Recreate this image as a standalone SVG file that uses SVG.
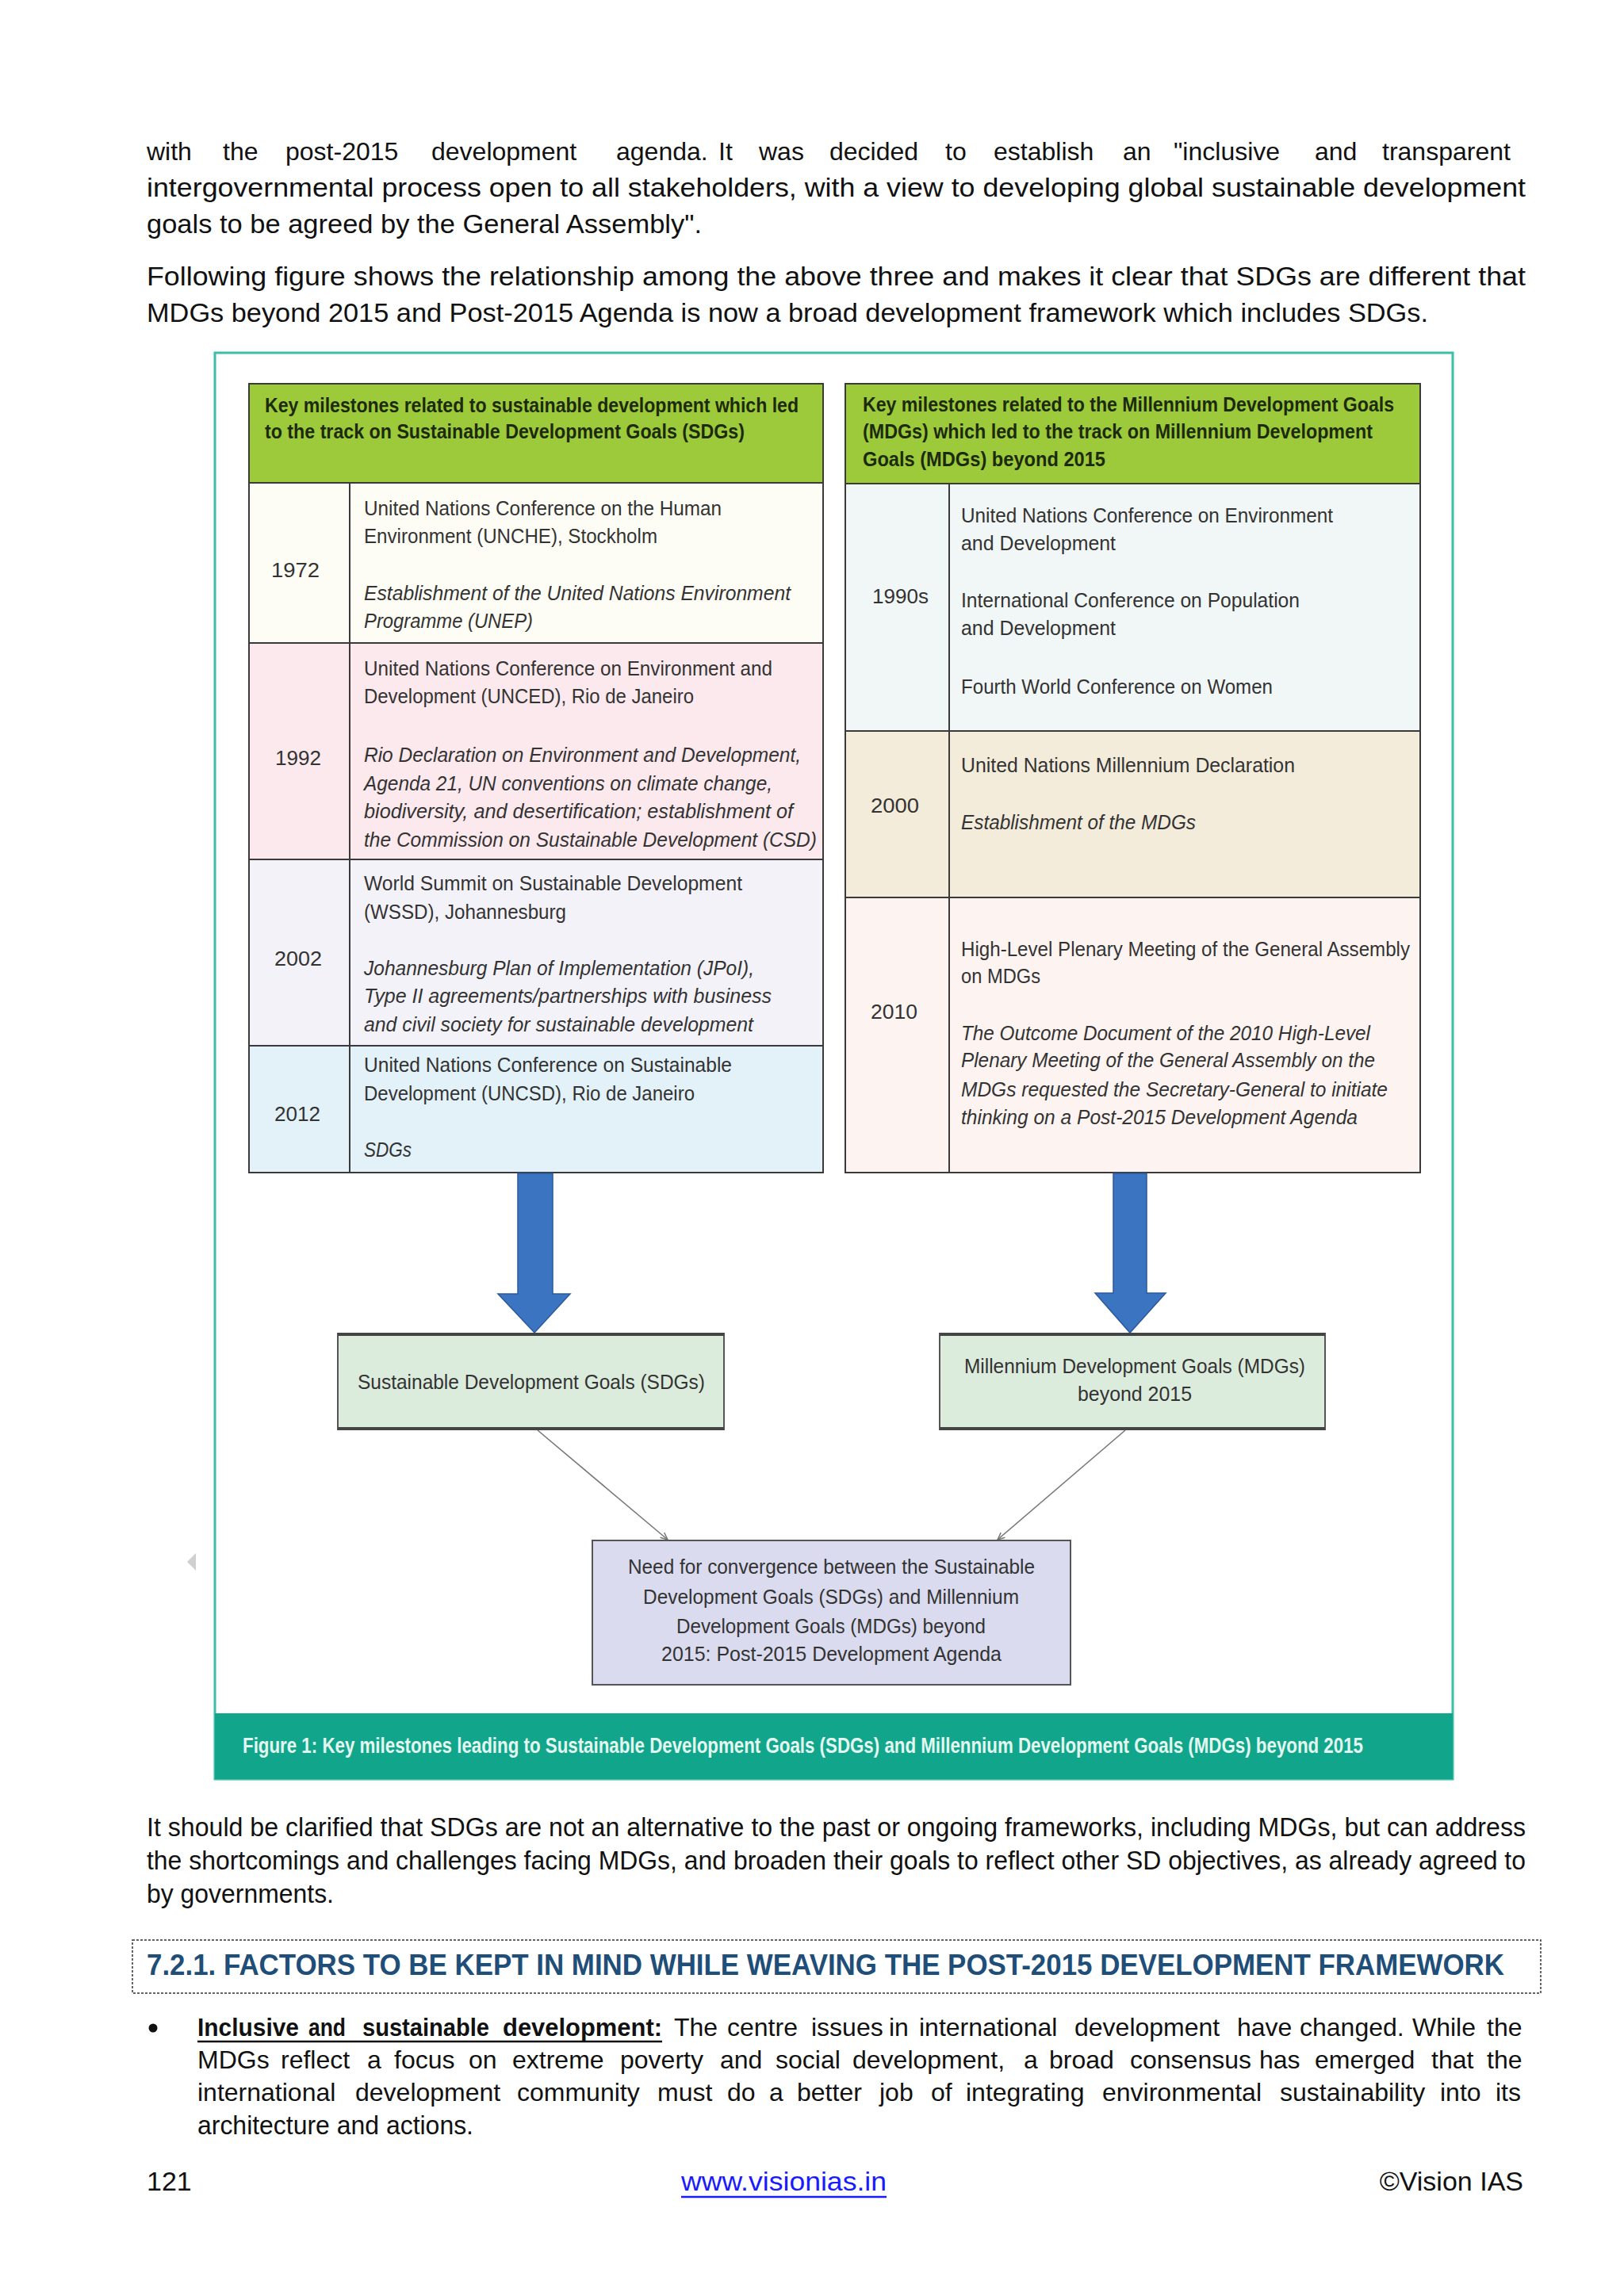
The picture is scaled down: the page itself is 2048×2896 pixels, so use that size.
<svg xmlns="http://www.w3.org/2000/svg" width="2048" height="2896" viewBox="0 0 2048 2896">
<defs>
<style>
.body{font-family:"Liberation Sans",Arial,sans-serif;font-size:34px;fill:#111}
.w{font-size:32px}
.fig{font-family:"Liberation Sans",Arial,sans-serif;font-size:26px;fill:#333}
.hdr{font-family:"Liberation Sans",Arial,sans-serif;font-size:26px;font-weight:bold;fill:#1c2a0e}
.it{font-style:italic}
.cell{stroke:#3a3a3a;stroke-width:2}
.goal{fill:#dcecdc;stroke:#555;stroke-width:2}
.thick{stroke:#444;stroke-width:4}
.blue{fill:#3b74c1;stroke:#2b5a9b;stroke-width:1.5}
.thin{stroke:#777;stroke-width:1.6;fill:none}
</style>
<marker id="ah" markerWidth="12" markerHeight="12" refX="10" refY="5" orient="auto" markerUnits="userSpaceOnUse">
<path d="M1,1 L10,5 L1,9" fill="none" stroke="#777" stroke-width="1.5"/>
</marker>
</defs>
<rect width="2048" height="2896" fill="#fff"/>

<g id="top-text" class="body">
<text y="202" class="w"><tspan x="185">with</tspan><tspan x="281">the</tspan><tspan x="360">post-2015</tspan><tspan x="544">development</tspan><tspan x="777">agenda.</tspan><tspan x="906">It</tspan><tspan x="957">was</tspan><tspan x="1046">decided</tspan><tspan x="1192">to</tspan><tspan x="1253">establish</tspan><tspan x="1416">an</tspan><tspan x="1480">"inclusive</tspan><tspan x="1658">and</tspan><tspan x="1743">transparent</tspan></text>
<text x="185" y="248" textLength="1739" lengthAdjust="spacingAndGlyphs">intergovernmental process open to all stakeholders, with a view to developing global sustainable development</text>
<text x="185" y="294" textLength="700" lengthAdjust="spacingAndGlyphs">goals to be agreed by the General Assembly".</text>
<text x="185" y="360" textLength="1739" lengthAdjust="spacingAndGlyphs">Following figure shows the relationship among the above three and makes it clear that SDGs are different that</text>
<text x="185" y="406" textLength="1616" lengthAdjust="spacingAndGlyphs">MDGs beyond 2015 and Post-2015 Agenda is now a broad development framework which includes SDGs.</text>
</g>

<g id="figure">
<rect x="271" y="445" width="1561" height="1799" fill="#fff" stroke="#3dbea6" stroke-width="3"/>
<rect x="271" y="2161" width="1561" height="83" fill="#11a68b"/>
<text x="306" y="2211" textLength="1413" lengthAdjust="spacingAndGlyphs" font-family="Liberation Sans, Arial, sans-serif" font-size="27" font-weight="bold" fill="#e4f6f0">Figure 1: Key milestones leading to Sustainable Development Goals (SDGs) and Millennium Development Goals (MDGs) beyond 2015</text>
<polygon points="236,1970 247,1959 247,1981" fill="#d0d0d0"/>
</g>

<g id="table-sdg">
<g id="sdg-header">
<rect class="cell" x="314" y="484" width="724" height="125" fill="#9dca3b"/>
<text class="hdr" x="334" y="520" textLength="673" lengthAdjust="spacingAndGlyphs">Key milestones related to sustainable development which led</text>
<text class="hdr" x="334" y="553" textLength="605" lengthAdjust="spacingAndGlyphs">to the track on Sustainable Development Goals (SDGs)</text>
</g>
<g id="row-1972">
<rect class="cell" x="314" y="609" width="724" height="202" fill="#fefdf5"/>
<line class="cell" x1="441" y1="609" x2="441" y2="811"/>
<text class="fig" x="342" y="728" textLength="61" lengthAdjust="spacingAndGlyphs">1972</text>
<text class="fig" x="459" y="650" textLength="451" lengthAdjust="spacingAndGlyphs">United Nations Conference on the Human</text>
<text class="fig" x="459" y="685" textLength="370" lengthAdjust="spacingAndGlyphs">Environment (UNCHE), Stockholm</text>
<text class="fig it" x="459" y="757" textLength="538" lengthAdjust="spacingAndGlyphs">Establishment of the United Nations Environment</text>
<text class="fig it" x="459" y="792" textLength="213" lengthAdjust="spacingAndGlyphs">Programme (UNEP)</text>
</g>
<g id="row-1992">
<rect class="cell" x="314" y="811" width="724" height="273" fill="#fce9ed"/>
<line class="cell" x1="441" y1="811" x2="441" y2="1084"/>
<text class="fig" x="347" y="965" textLength="58" lengthAdjust="spacingAndGlyphs">1992</text>
<text class="fig" x="459" y="852" textLength="515" lengthAdjust="spacingAndGlyphs">United Nations Conference on Environment and</text>
<text class="fig" x="459" y="887" textLength="416" lengthAdjust="spacingAndGlyphs">Development (UNCED), Rio de Janeiro</text>
<text class="fig it" x="459" y="961" textLength="551" lengthAdjust="spacingAndGlyphs">Rio Declaration on Environment and Development,</text>
<text class="fig it" x="459" y="997" textLength="515" lengthAdjust="spacingAndGlyphs">Agenda 21, UN conventions on climate change,</text>
<text class="fig it" x="459" y="1032" textLength="541" lengthAdjust="spacingAndGlyphs">biodiversity, and desertification; establishment of</text>
<text class="fig it" x="459" y="1068" textLength="571" lengthAdjust="spacingAndGlyphs">the Commission on Sustainable Development (CSD)</text>
</g>
<g id="row-2002">
<rect class="cell" x="314" y="1084" width="724" height="235" fill="#f4f2f9"/>
<line class="cell" x1="441" y1="1084" x2="441" y2="1319"/>
<text class="fig" x="346" y="1218" textLength="60" lengthAdjust="spacingAndGlyphs">2002</text>
<text class="fig" x="459" y="1123" textLength="477" lengthAdjust="spacingAndGlyphs">World Summit on Sustainable Development</text>
<text class="fig" x="459" y="1159" textLength="255" lengthAdjust="spacingAndGlyphs">(WSSD), Johannesburg</text>
<text class="fig it" x="459" y="1230" textLength="492" lengthAdjust="spacingAndGlyphs">Johannesburg Plan of Implementation (JPoI),</text>
<text class="fig it" x="459" y="1265" textLength="514" lengthAdjust="spacingAndGlyphs">Type II agreements/partnerships with business</text>
<text class="fig it" x="459" y="1301" textLength="491" lengthAdjust="spacingAndGlyphs">and civil society for sustainable development</text>
</g>
<g id="row-2012">
<rect class="cell" x="314" y="1319" width="724" height="160" fill="#e3f1f9"/>
<line class="cell" x1="441" y1="1319" x2="441" y2="1479"/>
<text class="fig" x="346" y="1414" textLength="58" lengthAdjust="spacingAndGlyphs">2012</text>
<text class="fig" x="459" y="1352" textLength="464" lengthAdjust="spacingAndGlyphs">United Nations Conference on Sustainable</text>
<text class="fig" x="459" y="1388" textLength="417" lengthAdjust="spacingAndGlyphs">Development (UNCSD), Rio de Janeiro</text>
<text class="fig it" x="459" y="1459" textLength="60" lengthAdjust="spacingAndGlyphs">SDGs</text>
</g>
</g>

<g id="table-mdg">
<g id="mdg-header">
<rect class="cell" x="1066" y="484" width="725" height="126" fill="#9dca3b"/>
<text class="hdr" x="1088" y="519" textLength="670" lengthAdjust="spacingAndGlyphs">Key milestones related to the Millennium Development Goals</text>
<text class="hdr" x="1088" y="553" textLength="643" lengthAdjust="spacingAndGlyphs">(MDGs) which led to the track on Millennium Development</text>
<text class="hdr" x="1088" y="588" textLength="306" lengthAdjust="spacingAndGlyphs">Goals (MDGs) beyond 2015</text>
</g>
<g id="row-1990s">
<rect class="cell" x="1066" y="610" width="725" height="312" fill="#f1f7f6"/>
<line class="cell" x1="1197" y1="610" x2="1197" y2="922"/>
<text class="fig" x="1100" y="761" textLength="71" lengthAdjust="spacingAndGlyphs">1990s</text>
<text class="fig" x="1212" y="659" textLength="469" lengthAdjust="spacingAndGlyphs">United Nations Conference on Environment</text>
<text class="fig" x="1212" y="694" textLength="195" lengthAdjust="spacingAndGlyphs">and Development</text>
<text class="fig" x="1212" y="766" textLength="427" lengthAdjust="spacingAndGlyphs">International Conference on Population</text>
<text class="fig" x="1212" y="801" textLength="195" lengthAdjust="spacingAndGlyphs">and Development</text>
<text class="fig" x="1212" y="875" textLength="393" lengthAdjust="spacingAndGlyphs">Fourth World Conference on Women</text>
</g>
<g id="row-2000">
<rect class="cell" x="1066" y="922" width="725" height="210" fill="#f4ecdb"/>
<line class="cell" x1="1197" y1="922" x2="1197" y2="1132"/>
<text class="fig" x="1098" y="1025" textLength="61" lengthAdjust="spacingAndGlyphs">2000</text>
<text class="fig" x="1212" y="974" textLength="421" lengthAdjust="spacingAndGlyphs">United Nations Millennium Declaration</text>
<text class="fig it" x="1212" y="1046" textLength="296" lengthAdjust="spacingAndGlyphs">Establishment of the MDGs</text>
</g>
<g id="row-2010">
<rect class="cell" x="1066" y="1132" width="725" height="347" fill="#fdf4f2"/>
<line class="cell" x1="1197" y1="1132" x2="1197" y2="1479"/>
<text class="fig" x="1098" y="1285" textLength="59" lengthAdjust="spacingAndGlyphs">2010</text>
<text class="fig" x="1212" y="1206" textLength="566" lengthAdjust="spacingAndGlyphs">High-Level Plenary Meeting of the General Assembly</text>
<text class="fig" x="1212" y="1240" textLength="100" lengthAdjust="spacingAndGlyphs">on MDGs</text>
<text class="fig it" x="1212" y="1312" textLength="516" lengthAdjust="spacingAndGlyphs">The Outcome Document of the 2010 High-Level</text>
<text class="fig it" x="1212" y="1346" textLength="522" lengthAdjust="spacingAndGlyphs">Plenary Meeting of the General Assembly on the</text>
<text class="fig it" x="1212" y="1383" textLength="538" lengthAdjust="spacingAndGlyphs">MDGs requested the Secretary-General to initiate</text>
<text class="fig it" x="1212" y="1418" textLength="500" lengthAdjust="spacingAndGlyphs">thinking on a Post-2015 Development Agenda</text>
</g>
</g>

<g id="connectors">
<polygon class="blue" points="653,1480 697,1480 697,1632 719,1632 674,1681 628,1632 653,1632"/>
<polygon class="blue" points="1404,1480 1446,1480 1446,1631 1470,1631 1425,1681 1381,1631 1404,1631"/>
<line class="thin" x1="678" y1="1804" x2="842" y2="1942" marker-end="url(#ah)"/>
<line class="thin" x1="1419" y1="1804" x2="1258" y2="1942" marker-end="url(#ah)"/>
</g>

<g id="box-sdgs">
<rect class="goal" x="426" y="1682" width="487" height="121"/>
<line class="thick" x1="426" y1="1683" x2="913" y2="1683"/>
<line class="thick" x1="426" y1="1802" x2="913" y2="1802"/>
<text class="fig" x="451" y="1752" textLength="438" lengthAdjust="spacingAndGlyphs">Sustainable Development Goals (SDGs)</text>
</g>
<g id="box-mdgs">
<rect class="goal" x="1185" y="1682" width="486" height="121"/>
<line class="thick" x1="1185" y1="1683" x2="1671" y2="1683"/>
<line class="thick" x1="1185" y1="1802" x2="1671" y2="1802"/>
<text class="fig" x="1216" y="1732" textLength="430" lengthAdjust="spacingAndGlyphs">Millennium Development Goals (MDGs)</text>
<text class="fig" x="1359" y="1767" textLength="144" lengthAdjust="spacingAndGlyphs">beyond 2015</text>
</g>
<g id="box-convergence">
<rect x="747" y="1943" width="603" height="182" fill="#dadbee" stroke="#555" stroke-width="2"/>
<text class="fig" x="792" y="1985" textLength="513" lengthAdjust="spacingAndGlyphs">Need for convergence between the Sustainable</text>
<text class="fig" x="811" y="2023" textLength="474" lengthAdjust="spacingAndGlyphs">Development Goals (SDGs) and Millennium</text>
<text class="fig" x="853" y="2060" textLength="390" lengthAdjust="spacingAndGlyphs">Development Goals (MDGs) beyond</text>
<text class="fig" x="834" y="2095" textLength="429" lengthAdjust="spacingAndGlyphs">2015: Post-2015 Development Agenda</text>
</g>

<g id="bottom-text" class="body">
<text x="185" y="2316" textLength="1739" lengthAdjust="spacingAndGlyphs">It should be clarified that SDGs are not an alternative to the past or ongoing frameworks, including MDGs, but can address</text>
<text x="185" y="2358" textLength="1739" lengthAdjust="spacingAndGlyphs">the shortcomings and challenges facing MDGs, and broaden their goals to reflect other SD objectives, as already agreed to</text>
<text x="185" y="2400" textLength="236" lengthAdjust="spacingAndGlyphs">by governments.</text>
<rect x="167" y="2447" width="1776" height="67" fill="none" stroke="#333" stroke-width="1.5" stroke-dasharray="3,2"/>
<text x="185" y="2491" textLength="1712" lengthAdjust="spacingAndGlyphs" font-weight="bold" font-size="37" fill="#1f4e79">7.2.1. FACTORS TO BE KEPT IN MIND WHILE WEAVING THE POST-2015 DEVELOPMENT FRAMEWORK</text>
<circle cx="193" cy="2558" r="5.5" fill="#111"/>
<text y="2568" font-weight="bold" class="w" lengthAdjust="spacingAndGlyphs"><tspan x="249" textLength="128" lengthAdjust="spacingAndGlyphs">Inclusive</tspan><tspan x="389" textLength="47" lengthAdjust="spacingAndGlyphs">and</tspan><tspan x="457" textLength="160" lengthAdjust="spacingAndGlyphs">sustainable</tspan><tspan x="634" textLength="201" lengthAdjust="spacingAndGlyphs">development:</tspan></text>
<line x1="249" y1="2575" x2="835" y2="2575" stroke="#111" stroke-width="2.5"/>
<text y="2568" class="w"><tspan x="850">The</tspan><tspan x="917">centre</tspan><tspan x="1023">issues</tspan><tspan x="1121">in</tspan><tspan x="1159">international</tspan><tspan x="1355">development</tspan><tspan x="1560">have</tspan><tspan x="1639">changed.</tspan><tspan x="1781">While</tspan><tspan x="1875">the</tspan></text>
<text y="2609" class="w"><tspan x="249">MDGs</tspan><tspan x="354">reflect</tspan><tspan x="463">a</tspan><tspan x="497">focus</tspan><tspan x="591">on</tspan><tspan x="646">extreme</tspan><tspan x="782">poverty</tspan><tspan x="908">and</tspan><tspan x="978">social</tspan><tspan x="1075">development,</tspan><tspan x="1291">a</tspan><tspan x="1323">broad</tspan><tspan x="1425">consensus</tspan><tspan x="1588">has</tspan><tspan x="1658">emerged</tspan><tspan x="1805">that</tspan><tspan x="1875">the</tspan></text>
<text y="2650" class="w"><tspan x="249">international</tspan><tspan x="448">development</tspan><tspan x="652">community</tspan><tspan x="829">must</tspan><tspan x="917">do</tspan><tspan x="970">a</tspan><tspan x="1005">better</tspan><tspan x="1109">job</tspan><tspan x="1174">of</tspan><tspan x="1218">integrating</tspan><tspan x="1390">environmental</tspan><tspan x="1614">sustainability</tspan><tspan x="1816">into</tspan><tspan x="1886">its</tspan></text>
<text x="249" y="2692" textLength="348" lengthAdjust="spacingAndGlyphs">architecture and actions.</text>
</g>

<g id="footer" class="body">
<text x="185" y="2763">121</text>
<text x="859" y="2763" textLength="259" lengthAdjust="spacingAndGlyphs" fill="#1a1aff">www.visionias.in</text>
<line x1="859" y1="2771" x2="1118" y2="2771" stroke="#1a1aff" stroke-width="2.5"/>
<text x="1921" y="2763" text-anchor="end">©Vision IAS</text>
</g>
</svg>
